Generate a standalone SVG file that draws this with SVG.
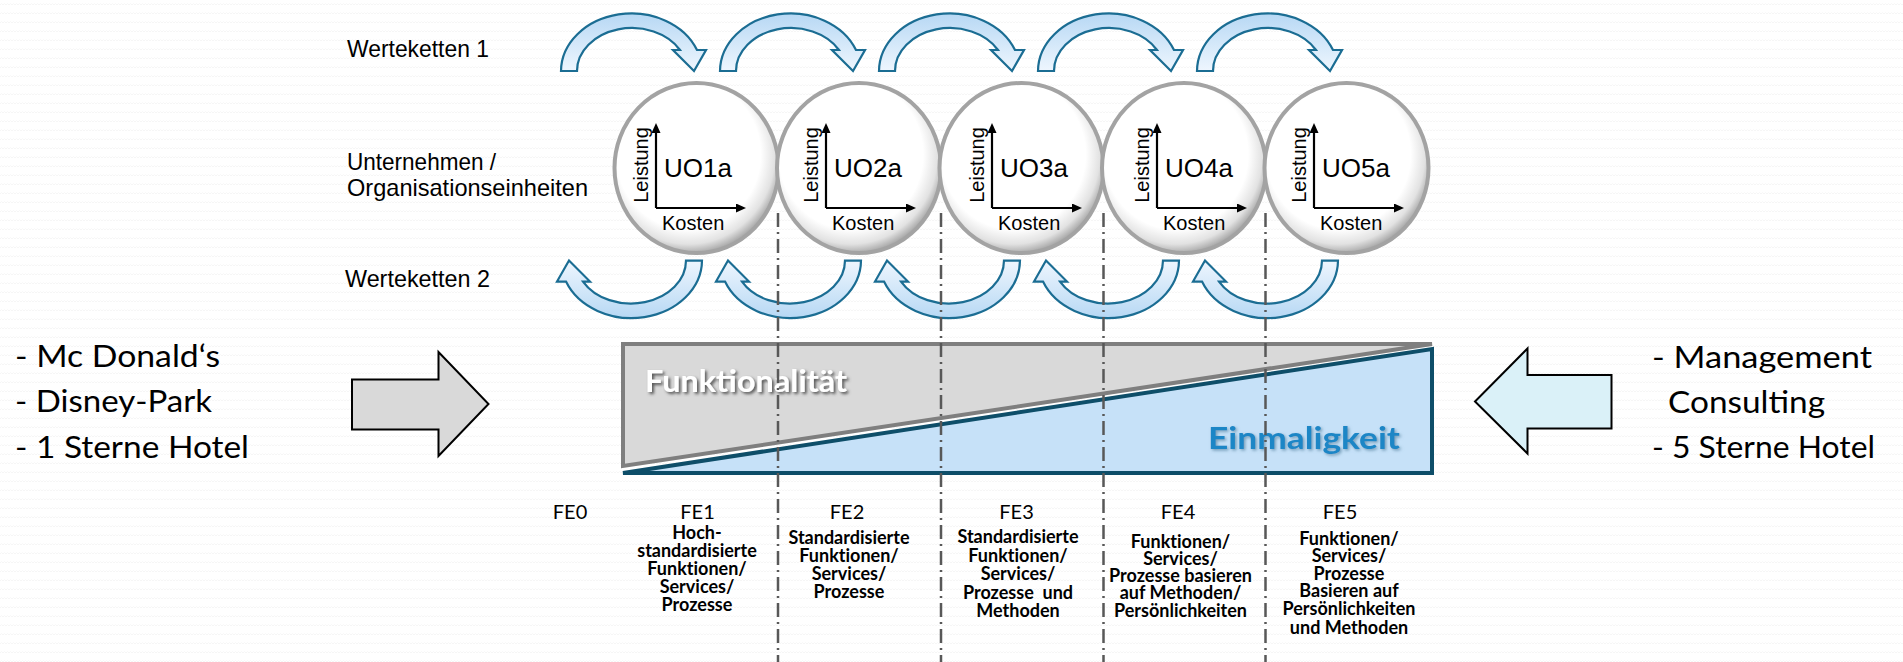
<svg xmlns="http://www.w3.org/2000/svg" width="1903" height="662" viewBox="0 0 1903 662">
<defs>
<pattern id="bg" width="6" height="9" patternUnits="userSpaceOnUse">
<path d="M0 5 L1.5 3.5 L3 5 L4.5 3.5 L6 5" fill="none" stroke="#f4f4f4" stroke-width="0.8"/>
</pattern>
<radialGradient id="cg" cx="0.45" cy="0.42" r="0.58">
<stop offset="0" stop-color="#ffffff"/>
<stop offset="0.76" stop-color="#ffffff"/>
<stop offset="0.91" stop-color="#e2e2e2"/>
<stop offset="1" stop-color="#adadad"/>
</radialGradient>
<linearGradient id="ag" x1="0" y1="0" x2="0" y2="1">
<stop offset="0" stop-color="#b7d8f4"/>
<stop offset="1" stop-color="#eef6fe"/>
</linearGradient>
<marker id="axh" viewBox="0 0 10 9" refX="0" refY="4.5" markerWidth="10" markerHeight="9" markerUnits="userSpaceOnUse" orient="auto">
<path d="M0 0 L10 4.5 L0 9 Z" fill="#000"/>
</marker>
<path id="carrow" d="M -72.5 29.15 A 70.5 58 0 0 1 63.5 8.15 L 72.5 8.15 L 60.5 29.15 L 39.5 8.15 L 46.5 8.15 A 55 43 0 0 0 -56.5 29.15 Z"/>
<filter id="sh1" x="-10%" y="-30%" width="120%" height="160%">
<feDropShadow dx="2" dy="2" stdDeviation="1.5" flood-color="#4a4a4a" flood-opacity="0.9"/>
</filter>
<filter id="sh2" x="-10%" y="-30%" width="120%" height="160%">
<feDropShadow dx="1.5" dy="1.5" stdDeviation="1.5" flood-color="#5f8aa6" flood-opacity="0.8"/>
</filter>
</defs>
<style>
.lbl{font-family:"Liberation Sans",Arial,sans-serif;font-size:24px;fill:#000}
.ax{stroke:#000;stroke-width:2.2;fill:none;marker-end:url(#axh)}
.circ{fill:url(#cg);stroke:#a3a3a3;stroke-width:4}
.uo{font-family:"Liberation Sans",Arial,sans-serif;font-size:26px;fill:#000}
.sm{font-family:"Liberation Sans",Arial,sans-serif;font-size:20px;fill:#000}
.big{font-family:Lato,"Open Sans",sans-serif;font-size:31px;fill:#000}
.fe{font-family:Lato,"Open Sans",sans-serif;font-size:20px;fill:#000;text-anchor:middle;font-variant-ligatures:none}
.desc{font-family:Lato,"Open Sans",sans-serif;font-size:18px;font-weight:bold;fill:#000;text-anchor:middle;font-variant-ligatures:none}
.carr{fill:url(#ag);stroke:#1b6d93;stroke-width:2.2;stroke-linejoin:miter}
.dash{stroke:#585858;stroke-width:2.5;stroke-dasharray:14 5 2 5;fill:none}
.bigarr{stroke:#000;stroke-width:2}
</style>
<rect width="1903" height="662" fill="#ffffff"/>
<rect width="1903" height="662" fill="url(#bg)"/>

<g id="row-labels">
<text class="lbl" x="347" y="57" textLength="142" lengthAdjust="spacingAndGlyphs">Werteketten 1</text>
<text class="lbl" x="347" y="170" textLength="149" lengthAdjust="spacingAndGlyphs">Unternehmen /</text>
<text class="lbl" x="347" y="196" textLength="241" lengthAdjust="spacingAndGlyphs">Organisationseinheiten</text>
<text class="lbl" x="345" y="287" textLength="145" lengthAdjust="spacingAndGlyphs">Werteketten 2</text>
</g>

<g id="uo1">
<ellipse class="circ" cx="696.5" cy="168" rx="82" ry="85"/>
<path class="ax" d="M656 208 V133"/>
<path class="ax" d="M656 208 H736"/>
<text class="sm" transform="translate(648,165) rotate(-90)" text-anchor="middle">Leistung</text>
<text class="uo" x="664" y="177">UO1a</text>
<text class="sm" x="662" y="230">Kosten</text>
</g>
<g id="uo2">
<ellipse class="circ" cx="859" cy="168" rx="82" ry="85"/>
<path class="ax" d="M826 208 V133"/>
<path class="ax" d="M826 208 H906"/>
<text class="sm" transform="translate(818,165) rotate(-90)" text-anchor="middle">Leistung</text>
<text class="uo" x="834" y="177">UO2a</text>
<text class="sm" x="832" y="230">Kosten</text>
</g>
<g id="uo3">
<ellipse class="circ" cx="1021.5" cy="168" rx="82" ry="85"/>
<path class="ax" d="M992 208 V133"/>
<path class="ax" d="M992 208 H1072"/>
<text class="sm" transform="translate(984,165) rotate(-90)" text-anchor="middle">Leistung</text>
<text class="uo" x="1000" y="177">UO3a</text>
<text class="sm" x="998" y="230">Kosten</text>
</g>
<g id="uo4">
<ellipse class="circ" cx="1184" cy="168" rx="82" ry="85"/>
<path class="ax" d="M1157 208 V133"/>
<path class="ax" d="M1157 208 H1237"/>
<text class="sm" transform="translate(1149,165) rotate(-90)" text-anchor="middle">Leistung</text>
<text class="uo" x="1165" y="177">UO4a</text>
<text class="sm" x="1163" y="230">Kosten</text>
</g>
<g id="uo5">
<ellipse class="circ" cx="1346.5" cy="168" rx="82" ry="85"/>
<path class="ax" d="M1314 208 V133"/>
<path class="ax" d="M1314 208 H1394"/>
<text class="sm" transform="translate(1306,165) rotate(-90)" text-anchor="middle">Leistung</text>
<text class="uo" x="1322" y="177">UO5a</text>
<text class="sm" x="1320" y="230">Kosten</text>
</g>

<g id="connectors">
<use href="#carrow" class="carr" transform="translate(633.5,41.85)"/>
<use href="#carrow" class="carr" transform="translate(792.5,41.85)"/>
<use href="#carrow" class="carr" transform="translate(951.5,41.85)"/>
<use href="#carrow" class="carr" transform="translate(1110.5,41.85)"/>
<use href="#carrow" class="carr" transform="translate(1269.5,41.85)"/>
<use href="#carrow" class="carr" transform="translate(629.5,289.7) rotate(180)"/>
<use href="#carrow" class="carr" transform="translate(788.5,289.7) rotate(180)"/>
<use href="#carrow" class="carr" transform="translate(947.5,289.7) rotate(180)"/>
<use href="#carrow" class="carr" transform="translate(1106.5,289.7) rotate(180)"/>
<use href="#carrow" class="carr" transform="translate(1265.5,289.7) rotate(180)"/>
</g>

<g id="scale-box">
<polygon points="623,344 1432,344 623,466" fill="#d9d9d9" stroke="#7f7f7f" stroke-width="4"/>
<polygon points="623,473 1432,349 1432,473" fill="#c6e1f8" stroke="#0e4e69" stroke-width="4"/>
<text x="645" y="392" font-family="Lato, 'Open Sans', sans-serif" font-size="31" font-weight="bold" fill="#ffffff" filter="url(#sh1)" textLength="202" lengthAdjust="spacingAndGlyphs">Funktionalität</text>
<text x="1208" y="449" font-family="Lato, 'Open Sans', sans-serif" font-size="31" font-weight="bold" fill="#1b86c6" filter="url(#sh2)" textLength="192" lengthAdjust="spacingAndGlyphs">Einmaligkeit</text>
</g>

<g id="left-arrow">
<polygon class="bigarr" fill="#d9d9d9" points="352,379.5 438.5,379.5 438.5,352 488.5,404 438.5,456 438.5,429.5 352,429.5"/>
</g>
<g id="right-arrow">
<polygon class="bigarr" fill="#daf1f8" points="1611.5,375 1527.5,375 1527.5,348.5 1475,401.5 1527.5,453.5 1527.5,428.5 1611.5,428.5"/>
</g>

<g id="left-text">
<text class="big" x="15" y="367" textLength="205" lengthAdjust="spacingAndGlyphs">- Mc Donald‘s</text>
<text class="big" x="15" y="412" textLength="197" lengthAdjust="spacingAndGlyphs">- Disney-Park</text>
<text class="big" x="15" y="458" textLength="234" lengthAdjust="spacingAndGlyphs">- 1 Sterne Hotel</text>
</g>
<g id="right-text">
<text class="big" x="1652" y="368" textLength="220" lengthAdjust="spacingAndGlyphs">- Management</text>
<text class="big" x="1668" y="413" textLength="157" lengthAdjust="spacingAndGlyphs">Consulting</text>
<text class="big" x="1652" y="458" textLength="223" lengthAdjust="spacingAndGlyphs">- 5 Sterne Hotel</text>
</g>

<g id="fe0"><text class="fe" x="570" y="519">FE0</text></g>
<g id="fe1">
<text class="fe" x="697.5" y="519">FE1</text>
<text class="desc" x="697"><tspan x="697" y="539">Hoch-</tspan><tspan x="697" y="557">standardisierte</tspan><tspan x="697" y="575">Funktionen/</tspan><tspan x="697" y="593">Services/</tspan><tspan x="697" y="611">Prozesse</tspan></text>
</g>
<g id="fe2">
<text class="fe" x="847" y="519">FE2</text>
<text class="desc" x="849"><tspan x="849" y="544">Standardisierte</tspan><tspan x="849" y="562">Funktionen/</tspan><tspan x="849" y="580">Services/</tspan><tspan x="849" y="598">Prozesse</tspan></text>
</g>
<g id="fe3">
<text class="fe" x="1016.5" y="519">FE3</text>
<text class="desc" x="1018" xml:space="preserve"><tspan x="1018" y="543">Standardisierte</tspan><tspan x="1018" y="561.5">Funktionen/</tspan><tspan x="1018" y="580">Services/</tspan><tspan x="1018" y="598.5">Prozesse  und</tspan><tspan x="1018" y="617">Methoden</tspan></text>
</g>
<g id="fe4">
<text class="fe" x="1178" y="519">FE4</text>
<text class="desc" x="1180.5"><tspan x="1180.5" y="548">Funktionen/</tspan><tspan x="1180.5" y="565">Services/</tspan><tspan x="1180.5" y="582">Prozesse basieren</tspan><tspan x="1180.5" y="599">auf Methoden/</tspan><tspan x="1180.5" y="616.5">Persönlichkeiten</tspan></text>
</g>
<g id="fe5">
<text class="fe" x="1340" y="519">FE5</text>
<text class="desc" x="1349"><tspan x="1349" y="545">Funktionen/</tspan><tspan x="1349" y="562">Services/</tspan><tspan x="1349" y="580">Prozesse</tspan><tspan x="1349" y="597">Basieren auf</tspan><tspan x="1349" y="615">Persönlichkeiten</tspan><tspan x="1349" y="634">und Methoden</tspan></text>
</g>

<g id="dividers">
<line class="dash" x1="778" y1="213" x2="778" y2="662"/>
<line class="dash" x1="941" y1="213" x2="941" y2="662"/>
<line class="dash" x1="1103.5" y1="213" x2="1103.5" y2="662"/>
<line class="dash" x1="1265.5" y1="213" x2="1265.5" y2="662"/>
</g>
</svg>
